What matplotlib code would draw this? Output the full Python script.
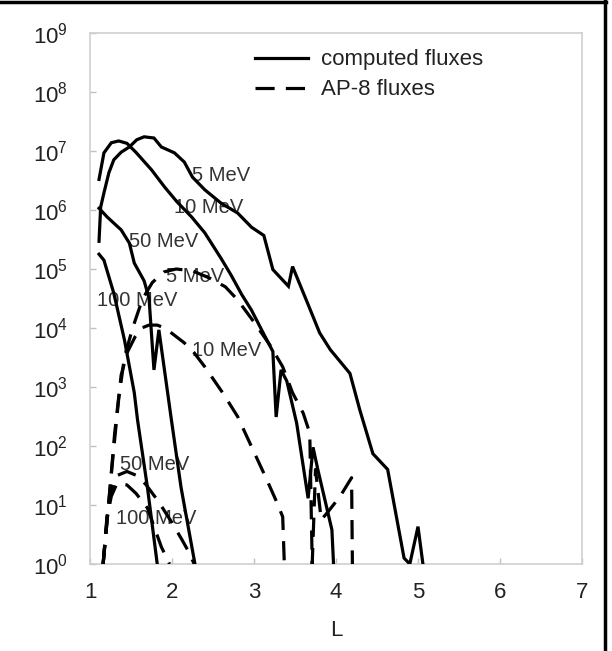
"""Proton flux vs L: computed fluxes against AP-8 model fluxes."""
import matplotlib
matplotlib.use("Agg")
import matplotlib.pyplot as plt
from matplotlib.lines import Line2D

plt.rcParams["font.family"] = ["Liberation Sans", "DejaVu Sans"]
plt.rcParams["mathtext.default"] = "regular"

# ---------------------------------------------------------------------------
# Data
# ---------------------------------------------------------------------------

# computed fluxes
comp_5_L = [1.11, 1.13, 1.17, 1.23, 1.29, 1.38, 1.48, 1.57, 1.66, 1.78, 1.87,
            2.03, 2.15, 2.25, 2.40, 2.60, 2.80, 2.97, 3.12, 3.23, 3.42, 3.47,
            3.66, 3.80, 3.93, 4.17, 4.29, 4.45, 4.63, 4.83, 4.90, 5.00, 5.06]
comp_5_F = [2.95e5, 1.12e6, 1.95e6, 4.27e6, 7.08e6, 9.55e6, 1.17e7, 1.55e7,
            1.74e7, 1.66e7, 1.17e7, 9.3e6, 6.5e6, 3.6e6, 2.2e6, 1.3e6, 8.9e5,
            5.1e5, 3.7e5, 9.8e4, 5.1e4, 1.1e5, 2.5e4, 8.3e3, 4.3e3, 1.7e3,
            410, 74, 40, 1.26, 1.0, 4.3, 1.0]

comp_10_L = [1.11, 1.17, 1.26, 1.35, 1.45, 1.56, 1.75, 1.91, 2.06, 2.24, 2.40,
             2.60, 2.72, 2.85, 2.97, 3.10, 3.23, 3.27, 3.33, 3.40, 3.52, 3.66,
             3.72, 3.78, 3.95, 3.97]
comp_10_F = [3.3e6, 9.3e6, 1.38e7, 1.48e7, 1.35e7, 9.5e6, 4.8e6, 2.45e6,
             1.38e6, 7.6e5, 4.1e5, 1.5e5, 7.9e4, 3.7e4, 2.0e4, 8.9e3, 4.0e3,
             310, 1.95e3, 1.26e3, 245, 13, 95, 39, 3.8, 1.0]

comp_50_L = [1.11, 1.21, 1.38, 1.48, 1.54, 1.66, 1.72, 1.78, 1.84, 1.99, 2.11,
             2.28]
comp_50_F = [1.07e6, 7.6e5, 4.6e5, 2.75e5, 1.26e5, 6.3e4, 3.2e4, 1.95e3,
             9.3e3, 295, 20, 1.0]

comp_100_L = [1.11, 1.17, 1.29, 1.42, 1.54, 1.58, 1.70, 1.82]
comp_100_F = [1.78e5, 1.41e5, 3.9e4, 6.3e3, 800, 275, 20, 1.0]

# AP-8 fluxes
ap8_5_L = [1.16, 1.21, 1.28, 1.35, 1.42, 1.52, 1.64, 1.76, 1.90, 2.05, 2.25,
           2.45, 2.65, 2.80, 3.00, 3.20, 3.35, 3.47, 3.60, 3.68, 3.71, 3.75,
           3.82, 3.90, 4.05, 4.19, 4.20]
ap8_5_F = [1.0, 5.8, 66, 630, 3.2e3, 1.0e4, 3.1e4, 5.9e4, 8.9e4, 1.0e5,
           9.3e4, 7.1e4, 5.0e4, 3.0e4, 1.26e4, 5.0e3, 2.2e3, 800, 360, 166,
           1.0, 40, 5.6, 7.6, 14, 29, 1.0]

ap8_10_L = [1.16, 1.22, 1.30, 1.38, 1.46, 1.55, 1.63, 1.72, 1.82, 1.91, 1.99,
            2.15, 2.27, 2.40, 2.62, 2.80, 3.00, 3.15, 3.28, 3.35, 3.37]
ap8_10_F = [1.0, 7.9, 160, 1.6e3, 4.0e3, 7.1e3, 1.0e4, 1.12e4, 1.12e4, 1.0e4,
            8.3e3, 5.6e3, 3.8e3, 2.2e3, 790, 316, 79, 28, 11, 6.3, 1.0]

ap8_50_L = [1.16, 1.21, 1.26, 1.33, 1.45, 1.57, 1.68, 1.84, 2.00, 2.12, 2.21,
            2.27]
ap8_50_F = [1.0, 7.2, 17.8, 31.6, 37, 31.6, 22.4, 11.2, 5.0, 2.6, 1.55, 1.0]

ap8_100_L = [1.16, 1.21, 1.26, 1.33, 1.45, 1.56, 1.70, 1.87, 1.97]
ap8_100_F = [1.0, 6.3, 14.1, 23.4, 21.9, 15.8, 8.9, 1.95, 1.0]

# curve labels: (text, L, flux)
labels = ["5 MeV", "10 MeV", "50 MeV", "5 MeV", "100 MeV", "10 MeV",
          "50 MeV", "100 MeV"]
label_L = [2.25, 2.03, 1.48, 1.93, 1.09, 2.24, 1.36, 1.32]
label_F = [3.8e6, 1.12e6, 2.95e5, 7.6e4, 2.9e4, 4.1e3, 48, 6.0]

legend_labels = ["computed fluxes", "AP-8 fluxes"]

# ---------------------------------------------------------------------------
# Plot
# ---------------------------------------------------------------------------

W, H = 612, 651
fig = plt.figure(figsize=(W / 100, H / 100), dpi=100)
ax = fig.add_axes([90 / W, 1 - 564 / H, 492 / W, 531 / H])

LW = 2.3
DASH = (6, 3.5)
for xs, ys in [(comp_5_L, comp_5_F), (comp_10_L, comp_10_F),
               (comp_50_L, comp_50_F), (comp_100_L, comp_100_F)]:
    ax.plot(xs, ys, color="black", lw=LW, solid_joinstyle="miter", zorder=3)
for xs, ys in [(ap8_5_L, ap8_5_F), (ap8_10_L, ap8_10_F),
               (ap8_50_L, ap8_50_F), (ap8_100_L, ap8_100_F)]:
    ax.plot(xs, ys, color="black", lw=LW, dashes=DASH, zorder=3)

for txt, lx, ly in zip(labels, label_L, label_F):
    ax.text(lx, ly, txt, fontsize=14.5, color="#333333", ha="left",
            va="center", zorder=2)

ax.set_yscale("log")
ax.set_xlim(1, 7)
ax.set_ylim(1, 1e9)
ax.set_xticks(range(1, 8))
ax.set_yticks([10.0 ** k for k in range(10)])
ax.minorticks_off()
ax.tick_params(axis="both", direction="in", length=4, width=1,
               color="#c0c0c0", labelsize=16, labelcolor="#222222")
ax.tick_params(axis="y", pad=16)
ax.tick_params(axis="x", pad=13)
for sp in ax.spines.values():
    sp.set_color("#cfcfcf")
    sp.set_linewidth(1.2)

ax.set_xlabel("L", fontsize=16, color="#222222", labelpad=12)

handles = [Line2D([], [], color="black", lw=LW),
           Line2D([], [], color="black", lw=LW, dashes=DASH)]
ax.legend(handles, legend_labels, loc="upper left",
          bbox_to_anchor=(0.335, 0.969), frameon=False, fontsize=16,
          handlelength=2.4, handletextpad=0.6, labelspacing=0.4,
          borderpad=0, borderaxespad=0, labelcolor="#222222")

# figure border (top and right)
fig.add_artist(Line2D([0, 606 / W], [1 - 1.5 / H, 1 - 1.5 / H],
                      color="black", lw=2.5, transform=fig.transFigure))
fig.add_artist(Line2D([604.5 / W, 604.5 / W], [0, 1], color="black",
                      lw=2.5, transform=fig.transFigure))

fig.savefig("out.png", dpi=100)
